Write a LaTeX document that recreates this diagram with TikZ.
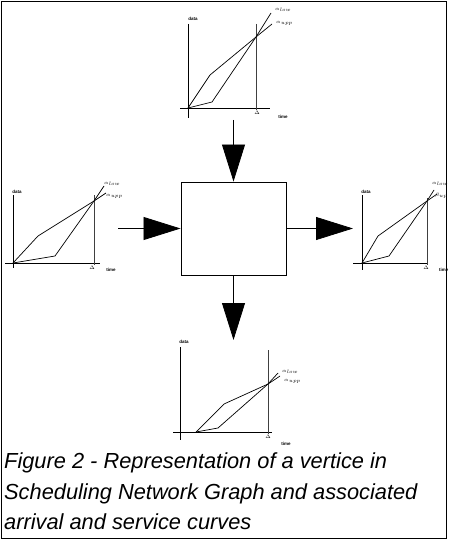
\documentclass[tikz,border=0pt]{standalone}
\usepackage{fontspec}
\setmainfont{Liberation Sans}
\usepackage{tikz}
\usetikzlibrary{
  arrows.meta,
  positioning,
  calc
}
\definecolor{vxLine}{HTML}{000000}
\definecolor{vxMute}{HTML}{6B6B6B}
\tikzset{
  axisline/.style={line width=0.8pt, vxLine},
  deltaline/.style={line width=0.8pt, vxMute!60!black},
  curve/.style={line width=0.7pt, vxLine},
  tinylab/.style={font=\fontsize{4.5}{4.5}\selectfont\bfseries, inner sep=0pt},
  vertex/.style={draw, line width=0.9pt, minimum width=105pt, minimum height=93pt, inner sep=0pt},
  bigflow/.style={-{Triangle[length=37pt, width=23pt]}, line width=0.8pt},
  caption/.style={font=\fontsize{21.8}{31}\selectfont\itshape, anchor=base west, inner sep=0pt}
}

\begin{document}
\begin{tikzpicture}[x=1pt, y=-1pt]
  \useasboundingbox (0,0) rectangle (448,540);
  \draw[line width=0.9pt] (1.5,1.5) rectangle (446.5,538.5);

  % vertex of the scheduling network graph
  \node[vertex] (vx) at (233.5,228.5) {};
  \coordinate (inTop) at (233.5,120);
  \coordinate (inLeft) at (118,228.5);
  \coordinate (outRight) at (353,228.5);
  \coordinate (outBot) at (233.5,340);
  \draw[bigflow] (inTop) -- (vx.north);
  \draw[bigflow] (inLeft) -- (vx.west);
  \draw[bigflow] (vx.east) -- (outRight);
  \draw[bigflow] (vx.south) -- (outBot);

  % top curves
  \draw[axisline] (188,24) -- (188,118);
  \draw[axisline] (180,108) -- (270,108);
  \draw[deltaline] (256,24) -- (256,110);
  \draw[curve] (188,108) -- (210,75) -- (256,37) -- (272,24);
  \draw[curve] (188,108) -- (212,102) -- (256,37) -- (271,13);
  \node[tinylab, anchor=west] (tUp) at (275,10) {$\alpha_{low}$};
  \node[tinylab, anchor=west] (tLo) at (276,23) {$\alpha_{upp}$};
  \node[tinylab] (tData) at (193,19) {data};
  \node[tinylab] (tDelta) at (257,113) {$\Delta$};
  \node[tinylab] (tTime) at (283,117) {time};

  % left curves
  \draw[axisline] (13,195) -- (13,268);
  \draw[axisline] (5,263) -- (100,263);
  \draw[deltaline] (94,195) -- (94,265);
  \draw[curve] (13,263) -- (38,236) -- (94,201) -- (106,193);
  \draw[curve] (13,263) -- (55,256) -- (94,201) -- (104,186);
  \node[tinylab, anchor=west] (lUp) at (104,184) {$\alpha_{low}$};
  \node[tinylab, anchor=west] (lLo) at (106,196) {$\alpha_{upp}$};
  \node[tinylab] (lData) at (17,192) {data};
  \node[tinylab] (lDelta) at (92,268) {$\Delta$};
  \node[tinylab] (lTime) at (111,270) {time};

  % right curves
  \draw[axisline] (362,195) -- (362,270);
  \draw[axisline] (353,263) -- (428,263);
  \draw[deltaline] (427,198) -- (427,265);
  \draw[curve] (362,263) -- (378,236) -- (427,201) -- (437,194);
  \draw[curve] (362,263) -- (389,256) -- (427,201) -- (434,190);
  \node[tinylab, anchor=west] (rUp) at (432,184) {$\alpha_{low}$};
  \node[tinylab, anchor=west] (rLo) at (435,196) {$\beta_{up}$};
  \node[tinylab] (rData) at (366,192) {data};
  \node[tinylab] (rDelta) at (426,268) {$\Delta$};
  \node[tinylab, anchor=west] (rTime) at (439,270) {time};

  % bottom curves
  \draw[axisline] (180,347) -- (180,440);
  \draw[axisline] (173,432) -- (272,432);
  \draw[deltaline] (268,350) -- (268,434);
  \draw[curve] (196,432) -- (224,404) -- (268,384) -- (280,376);
  \draw[curve] (196,432) -- (218,428) -- (268,384) -- (278,373);
  \node[tinylab, anchor=west] (bUp) at (282,372) {$\alpha_{low}$};
  \node[tinylab, anchor=west] (bLo) at (284,381) {$\alpha_{upp}$};
  \node[tinylab] (bData) at (184,342) {data};
  \node[tinylab] (bDelta) at (268,437) {$\Delta$};
  \node[tinylab] (bTime) at (286,444) {time};

  \node[caption] (capA) at (4,468) {Figure 2 - Representation of a vertice in};
  \node[caption] (capB) at (4,499) {Scheduling Network Graph and associated};
  \node[caption] (capC) at (4,529) {arrival and service curves};
\end{tikzpicture}
\end{document}
